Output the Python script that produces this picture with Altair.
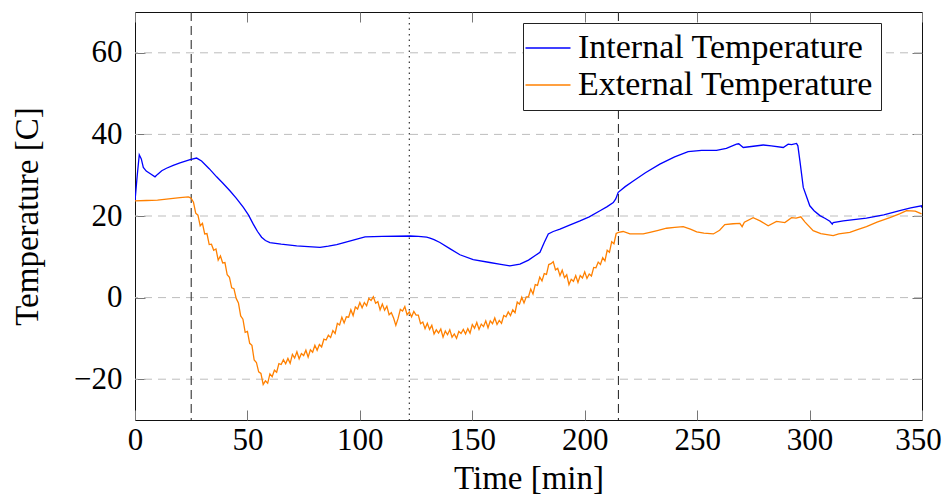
import altair as alt
import pandas as pd

# ---- data ----
int_t = [0, 1, 1.9, 2.8, 3.7, 5, 7, 8.9, 10, 11.9, 14, 17, 20, 24.5, 27.4, 29.6, 33, 36.3, 39,
         42.2, 45, 48.2, 50.5, 52.6, 54.5, 56.3, 58, 60, 65, 71.9, 77, 82.3, 86, 89.7, 95, 102.3,
         110, 122.3, 126, 129.7, 131.2, 133, 135.6, 140, 144.5, 150.4, 157.8, 162, 166.7, 171.2,
         175, 178, 180.1, 182, 183.8, 186, 189, 193, 197.9, 202, 206.8, 210, 212.7, 213.8, 214.9,
         218, 221.6, 227, 233.4, 240, 246, 252, 258.6, 263, 267.5, 268.5, 270.5, 275, 279.4, 283,
         288.3, 290.5, 292, 294.2, 294.8, 295.7, 297.2, 300.1, 302, 304.6, 307, 309, 310.1, 310.5,
         315, 325.3, 333, 340.1, 345, 349.8, 350]
int_v = [23.7, 30, 35, 34, 31.9, 31, 30.3, 29.6, 30.2, 31.1, 31.7, 32.4, 33, 33.8, 34.2, 33.5, 31.6,
         29.6, 28.1, 26.2, 24.4, 22.1, 20.2, 18, 16.2, 14.8, 14, 13.5, 13.1, 12.7, 12.5, 12.3, 12.6,
         13, 13.8, 14.9, 15, 15.1, 15, 14.8, 14.6, 14.2, 13.5, 12, 10.5, 9.3, 8.6, 8.2, 7.8, 8.2,
         9.2, 10.3, 11.1, 13.5, 15.6, 16.2, 16.8, 17.7, 18.8, 19.8, 21.3, 22.3, 23.3, 24.2, 25.8,
         27.2, 28.6, 30.6, 32.7, 34.5, 35.8, 36.1, 36.1, 36.6, 37.6, 37.7, 36.8, 37.1, 37.4, 37.2,
         36.8, 37.6, 37.5, 37.8, 37.2, 33.5, 27, 22.5, 21.3, 20.1, 19.4, 18.7, 18, 18.4, 18.8, 19.5,
         20.3, 21.3, 22, 22.5, 22]

ext_t = [0, 5, 10, 15, 20, 23.7, 24.5, 25,
         26, 27, 28, 29, 30, 31, 32, 33, 34, 35, 36, 37, 38, 39, 40, 41, 42, 43, 44, 45,
         46, 47, 48, 49, 50, 51, 52, 53, 54, 55, 56, 57, 58, 59, 60, 61, 62, 63, 64, 65,
         66, 67, 68, 69, 70, 71, 72, 73, 74, 75, 76, 77, 78, 79, 80, 81, 82, 83, 84, 85,
         86, 87, 88, 89, 90, 91, 92, 93, 94, 95, 96, 97, 98, 99, 100, 101, 102, 103, 104, 105,
         106, 107, 108, 109, 110, 111, 112, 113, 114, 115, 116, 117, 118, 119, 120, 121, 122, 123, 124, 125,
         126, 127, 128, 129, 130, 131, 132, 133, 134, 135, 136, 137, 138, 139, 140, 141, 142, 143, 144, 145,
         146, 147, 148, 149, 150, 151, 152, 153, 154, 155, 156, 157, 158, 159, 160, 161, 162, 163, 164, 165,
         166, 167, 168, 169, 170, 171, 172, 173, 174, 175, 176, 177, 178, 179, 180, 181, 182, 183, 184, 185,
         186, 187, 188, 189, 190, 191, 192, 193, 194, 195, 196, 197, 198, 199, 200, 201, 202, 203, 204, 205,
         206, 207, 208, 209, 210, 211, 212, 213, 214,
         215, 217.1, 220.1, 223, 226, 229, 232.7, 236.4, 240, 243.8, 247, 249.8, 253, 257.2, 260,
         262.3, 266, 269, 270, 271, 274.9, 278, 281.6, 285.3, 289, 292, 294, 296.1, 298, 301.6,
         305, 310.5, 313, 317.9, 321, 325.3, 330, 335.7, 340, 343.1, 347, 349.8]
ext_v = [23.7, 23.8, 23.9, 24.2, 24.5, 24.7, 24.5, 24.3,
         23.4, 20.7, 20.2, 17.6, 18.2, 15.6, 15.7, 13.0, 13.1, 11.6, 11.9, 9.2, 10.2, 8.5, 8.6, 5.6, 5.0, 2.4, 2.2, -0.2,
         -1.3, -4.5, -5.3, -8.5, -8.3, -11.2, -11.7, -15.3, -15.9, -18.2, -18.6, -21.3, -20.4, -21.0, -18.7, -19.4, -17.8, -18.3, -16.2, -16.4,
         -15.2, -16.2, -14.9, -16.1, -13.9, -14.8, -13.3, -15.0, -13.7, -14.2, -12.9, -14.6, -12.8, -13.4, -11.7, -12.9, -11.5, -12.1, -10.2, -10.4,
         -9.2, -9.8, -8.1, -8.8, -6.3, -6.7, -4.8, -6.2, -4.7, -4.8, -3.0, -4.4, -2.3, -2.8, -1.2, -2.5, -1.2, -2.0, -0.2, -0.7,
         0.2, -1.4, -1.0, -3.0, -1.6, -3.1, -2.1, -4.2, -3.7, -5.0, -6.8, -5.1, -2.9, -3.3, -2.2, -4.2, -3.5, -4.7, -3.4, -4.3,
         -4.3, -6.4, -6.0, -7.6, -6.3, -7.8, -6.8, -8.9, -7.9, -8.7, -7.7, -9.7, -8.2, -9.1, -7.9, -9.7, -8.9, -10.0, -8.3, -8.8,
         -7.8, -8.9, -7.6, -8.7, -6.6, -7.5, -6.1, -7.8, -6.5, -7.1, -5.7, -7.4, -5.7, -6.4, -5.0, -6.6, -5.6, -6.3, -4.4, -4.7,
         -3.5, -4.4, -3.0, -3.7, -1.1, -1.6, 0.1, -1.3, 0.2, 0.2, 2.1, 0.9, 3.2, 3.0, 5.0, 4.1, 5.9, 5.7, 8.1, 8.3,
         8.8, 6.8, 7.2, 5.4, 6.7, 4.9, 5.6, 3.2, 4.5, 4.0, 5.4, 3.7, 5.4, 4.8, 6.3, 4.7, 5.8, 5.3, 7.4, 7.3,
         8.7, 8.1, 9.8, 9.0, 11.6, 11.1, 13.7, 13.2, 15.7,
         16.0, 16.2, 15.6, 15.6, 15.6, 16.0, 16.5, 17.0, 17.2, 17.4, 16.8, 16.1, 15.8, 15.6, 16.5,
         17.9, 18.1, 18.2, 17.4, 18.5, 19.6, 18.8, 17.6, 18.7, 18.4, 19.6, 19.5, 19.8, 18.5, 16.4,
         15.7, 15.2, 15.6, 16.0, 16.6, 17.4, 18.5, 19.6, 20.5, 21.3, 21.2, 20.5]

series_names = ["Internal Temperature", "External Temperature"]
series_colors = ["#0000ff", "#ff8000"]
x_ticks = [0, 50, 100, 150, 200, 250, 300, 350]
y_ticks = [-20, 0, 20, 40, 60]
dashed_marks = [25, 215]
dotted_marks = [122]

df = pd.concat([
    pd.DataFrame({"t": int_t, "v": int_v, "series": series_names[0]}),
    pd.DataFrame({"t": ext_t, "v": ext_v, "series": series_names[1]}),
], ignore_index=True)

FONT = "Liberation Serif"
xscale = alt.Scale(domain=[0, 350], nice=False, zero=False)
yscale = alt.Scale(domain=[-30, 70], nice=False, zero=False)

common_axis = dict(offset=-10, tickSize=10, tickColor="#777777", tickWidth=1,
                   domain=False, grid=False, labelFlush=False, labelOverlap=False,
                   labelFont=FONT, labelFontSize=31,
                   labelColor="black", titleFont=FONT, titleFontSize=33,
                   titleFontWeight="normal", titleColor="black")

grid = alt.Chart(pd.DataFrame({"v": y_ticks})).mark_rule(
    color="#bdbdbd", strokeDash=[8, 6], strokeWidth=1
).encode(y=alt.Y("v:Q", scale=yscale, axis=None))

vdash = alt.Chart(pd.DataFrame({"t": dashed_marks})).mark_rule(
    color="#333333", strokeDash=[9, 5], strokeWidth=1.1
).encode(x=alt.X("t:Q", scale=xscale, axis=None))

vdot = alt.Chart(pd.DataFrame({"t": dotted_marks})).mark_rule(
    color="#333333", strokeDash=[1.5, 4], strokeWidth=1.2
).encode(x=alt.X("t:Q", scale=xscale, axis=None))

lines = alt.Chart(df).mark_line(strokeWidth=1.3, clip=True).encode(
    x=alt.X("t:Q", scale=xscale,
            axis=alt.Axis(orient="bottom", values=x_ticks, title="Time [min]",
                          labelPadding=5, titleY=78, titleBaseline="alphabetic",
                          labelOffset={"condition": {"test": "datum.value === 350", "value": -4},
                                       "value": 0},
                          **common_axis)),
    y=alt.Y("v:Q", scale=yscale,
            axis=alt.Axis(orient="left", values=y_ticks, title="Temperature [C]",
                          labelPadding=13, titleX=-108, titleY=204, titleAngle=270,
                          titleBaseline="alphabetic", **common_axis)),
    color=alt.Color("series:N",
                    scale=alt.Scale(domain=series_names, range=series_colors),
                    sort=series_names,
                    legend=alt.Legend(orient="none", legendX=388, legendY=11, title=None,
                                      symbolType="M-2,0H2", symbolSize=506,
                                      symbolStrokeWidth=1.3, labelFont=FONT,
                                      labelFontSize=34, labelColor="black",
                                      labelLimit=500, padding=8, rowPadding=3,
                                      labelOffset=13, fillColor="white",
                                      strokeColor="#222222", cornerRadius=0)),
)

frame = alt.Chart(df).mark_line(opacity=0).encode(
    x=alt.X("t:Q", scale=xscale,
            axis=alt.Axis(orient="top", values=x_ticks, labels=False, title=None, **common_axis)),
    y=alt.Y("v:Q", scale=yscale,
            axis=alt.Axis(orient="right", values=y_ticks, labels=False, title=None, **common_axis)),
    detail="series:N",
)

chart = alt.layer(grid, vdash, vdot, lines, frame).resolve_scale(
    x="shared", y="shared"
).resolve_axis(
    x="independent", y="independent"
).properties(
    width=787, height=408,
    autosize=alt.AutoSizeParams(type="none"),
    padding={"left": 127, "top": 4, "right": 20, "bottom": 82},
).configure_view(stroke="#111111", strokeWidth=1)

chart.save("out.html", embed_options={"renderer": "svg", "actions": False})
